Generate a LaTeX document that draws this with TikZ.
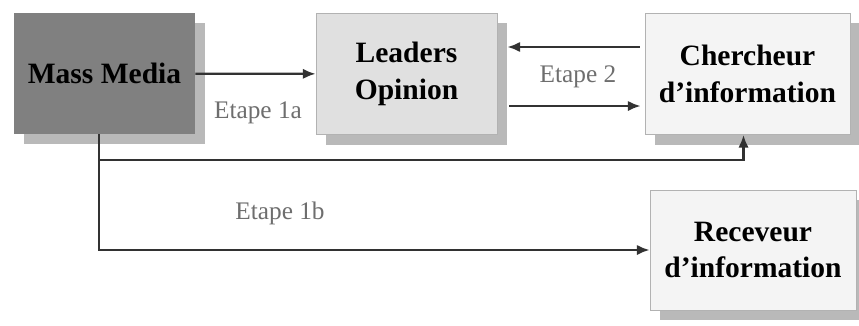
\documentclass[tikz,border=0pt]{standalone}
\usepackage{fontspec}
\setmainfont{Liberation Serif}
\usepackage{tikz}
\usetikzlibrary{arrows.meta,calc,positioning,shadows}
\definecolor{mediagray}{RGB}{128,128,128}
\definecolor{leadergray}{RGB}{224,224,224}
\definecolor{boxwhite}{RGB}{244,244,244}
\definecolor{shadowgray}{RGB}{185,185,185}
\definecolor{linegray}{RGB}{50,50,50}
\definecolor{labelgray}{RGB}{110,110,110}

\begin{document}
\begin{tikzpicture}[x=0.025cm,y=-0.025cm,>=Latex,
  acteur/.style={rectangle,draw=gray!60,line width=0.5pt,minimum width=4.525cm,minimum height=3.025cm,
    align=center,font=\rmfamily\fontsize{21}{26}\selectfont\bfseries,
    drop shadow={opacity=1,fill=shadowgray,shadow xshift=0.25cm,shadow yshift=-0.25cm}},
  flux/.style={linegray,line width=1.6pt,-{Latex[length=3.2mm,width=2.6mm]}},
  etape/.style={labelgray,font=\rmfamily\fontsize{18}{21}\selectfont}]
\useasboundingbox (0,0) rectangle (859,325);
% ---------- acteurs ----------
\node[acteur,fill=mediagray,draw=none] (media) at (104.5,73.5) {Mass Media};
\node[acteur,fill=leadergray] (leaders) at (406.5,74) {Leaders\\Opinion};
\node[acteur,fill=boxwhite,minimum width=5.125cm] (chercheur) at (747.5,74) {Chercheur\\d'information};
\node[acteur,fill=boxwhite,minimum width=5.15cm,minimum height=3cm] (receveur) at (753,250) {Receveur\\d'information};
% ---------- flux ----------
\draw[flux] (media) -- (leaders);
\draw[flux] ([xshift=-0.12cm,yshift=0.675cm]chercheur.west) -- ([xshift=0.25cm,yshift=0.675cm]leaders.east);
\draw[flux] ([xshift=0.3cm,yshift=-0.8cm]leaders.east) -- ([xshift=-0.1cm,yshift=-0.8cm]chercheur.west);
\draw[flux] ([xshift=-0.14cm]media.south) |- (receveur.west);
\draw[flux] ([xshift=-0.14cm]media.south) |- ([xshift=-0.1cm,yshift=-0.625cm]chercheur.south) -- ([xshift=-0.1cm]chercheur.south);
% ---------- etapes ----------
\node[etape] (e1a) at (258,113) {Etape 1a};
\node[etape] (e2) at (578,77) {Etape 2};
\node[etape] (e1b) at (280,213) {Etape 1b};
\end{tikzpicture}
\end{document}
